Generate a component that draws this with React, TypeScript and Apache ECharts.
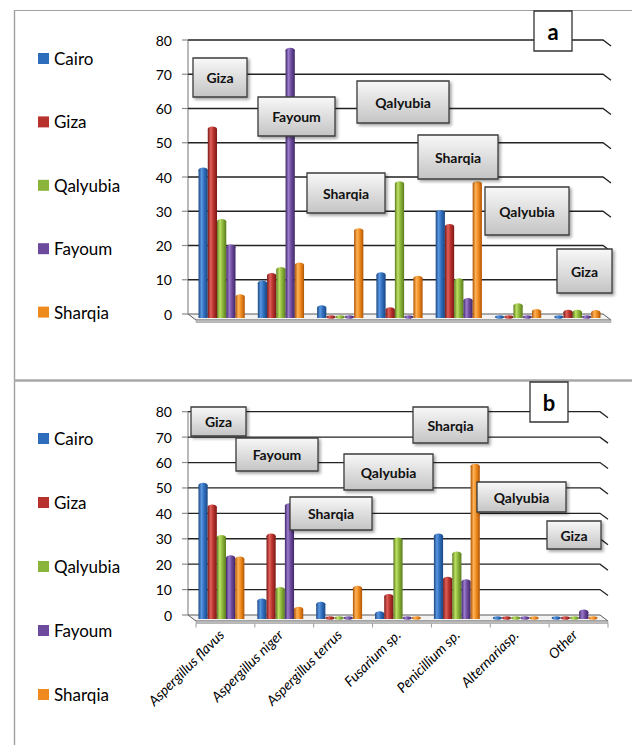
import React, { useEffect, useRef } from "react";
import * as echarts from "echarts";

// Fungal genera isolated per governorate (two sampling sets: a and b)
const categories = [
  "Aspergillus flavus",
  "Aspergillus niger",
  "Aspergillus terrus",
  "Fusarium sp.",
  "Penicillium sp.",
  "Alternariasp.",
  "Other",
];
const regions = ["Cairo", "Giza", "Qalyubia", "Fayoum", "Sharqia"];

// Set a
const cairoA = [42, 9, 1.8, 11.4, 29.6, 0, 0];
const gizaA = [54, 11.2, 0, 1.2, 25.5, 0, 0.5];
const qalyubiaA = [27, 13, 0, 38, 9.7, 2.4, 0.5];
const fayoumA = [19.5, 77, 0, 0, 3.9, 0, 0];
const sharqiaA = [5, 14.3, 24.3, 10.4, 38, 0.7, 0.4];

// Set b
const cairoB = [51, 5.5, 4.2, 0.5, 31, 0, 0];
const gizaB = [42.5, 31, 0, 7.2, 14, 0, 0];
const qalyubiaB = [30.5, 10, 0, 29.5, 24, 0, 0];
const fayoumB = [22.5, 43, 0, 0, 13, 0, 1.1];
const sharqiaB = [22, 2.2, 10.5, 0, 58.5, 0, 0];

const yTicks = [0, 10, 20, 30, 40, 50, 60, 70, 80];

// Floating region call-outs
const calloutsA = ["Giza", "Fayoum", "Qalyubia", "Sharqia", "Sharqia", "Qalyubia", "Giza"];
const calloutsB = ["Giza", "Fayoum", "Sharqia", "Qalyubia", "Sharqia", "Qalyubia", "Giza"];

const seriesA = [cairoA, gizaA, qalyubiaA, fayoumA, sharqiaA];
const seriesB = [cairoB, gizaB, qalyubiaB, fayoumB, sharqiaB];

const PALETTE = [
  { dark: "#1b4781", light: "#5a98e2", mid: "#2e6cbc" },
  { dark: "#7a1816", light: "#e0605a", mid: "#b8322d" },
  { dark: "#5b7c1e", light: "#bde063", mid: "#8ab43a" },
  { dark: "#402767", light: "#9a7bcc", mid: "#6c4a9c" },
  { dark: "#b05505", light: "#ffb257", mid: "#ee8a1e" },
];

// call-out box layout (x, y, w, h)
const boxesA = [
  [193, 58, 54, 39],
  [258, 97, 77, 39],
  [357, 81, 92, 42],
  [418, 135, 80, 44],
  [307, 173, 78, 40],
  [485, 187, 84, 48],
  [557, 249, 55, 44],
];
const boxesB = [
  [191, 407, 55, 29],
  [236, 438, 82, 33],
  [413, 407, 75, 36],
  [344, 454, 89, 36],
  [290, 497, 82, 33],
  [477, 482, 89, 30],
  [547, 521, 54, 28],
];

const FONT = "Lato, 'Open Sans', sans-serif";
const DX = 8;
const DY = 6;

function barGradient(p: { dark: string; light: string; mid: string }) {
  return new echarts.graphic.LinearGradient(0, 0, 1, 0, [
    { offset: 0, color: p.dark },
    { offset: 0.32, color: p.light },
    { offset: 0.62, color: p.mid },
    { offset: 1, color: p.dark },
  ]);
}

function makeBars(gridIdx: number, values: number[], sIdx: number) {
  const p = PALETTE[sIdx];
  return {
    type: "custom",
    name: regions[sIdx],
    xAxisIndex: gridIdx,
    yAxisIndex: gridIdx,
    z: 5,
    silent: true,
    itemStyle: { color: p.mid },
    data: values.map((v, i) => [i, v]),
    encode: { x: 0, y: 1 },
    renderItem: (params: any, api: any) => {
      const cat = api.value(0);
      const v = api.value(1);
      const band = api.size([1, 0])[0];
      const gw = band * 0.78;
      const w = gw / 5;
      const zero = api.coord([cat, 0]);
      const x = zero[0] - gw / 2 + sIdx * w;
      const base = zero[1] + 4;
      if (!v) {
        return {
          type: "ellipse",
          shape: { cx: x + w / 2, cy: zero[1] + 3, rx: w / 2, ry: 1.8 },
          style: { fill: barGradient(p) },
        };
      }
      const top = api.coord([cat, v])[1];
      return {
        type: "group",
        children: [
          {
            type: "rect",
            shape: { x: x, y: top, width: w, height: Math.max(base - top, 0.5) },
            style: { fill: barGradient(p) },
          },
          {
            type: "ellipse",
            shape: { cx: x + w / 2, cy: top, rx: w / 2, ry: 2.6 },
            style: { fill: barGradient(p) },
          },
        ],
      };
    },
  };
}

function makeDecor(gridIdx: number, withTicks: boolean) {
  return {
    type: "custom",
    xAxisIndex: gridIdx,
    yAxisIndex: gridIdx,
    z: 1,
    silent: true,
    data: yTicks.map((v) => [0, v]),
    encode: { x: 0, y: 1 },
    renderItem: (params: any, api: any) => {
      const cs = params.coordSys;
      const v = api.value(1);
      const y = api.coord([0, v])[1];
      const L = cs.x - 4;
      const R = cs.x + cs.width - 4;
      const children: any[] = [];
      if (v === 0) {
        children.push({
          type: "polygon",
          shape: { points: [[L, y], [R, y], [R + DX, y + DY], [L + DX, y + DY]] },
          style: { fill: "#f3f3f3", stroke: "#5a5a5a", lineWidth: 1 },
        });
        children.push({
          type: "polygon",
          shape: {
            points: [[L + DX, y + DY], [R + DX, y + DY], [R + DX, y + DY + 2.5], [L + DX, y + DY + 2.5]],
          },
          style: { fill: "#bdbdbd", stroke: "#9a9a9a", lineWidth: 0.6 },
        });
        children.push({
          type: "line",
          shape: { x1: L, y1: cs.y, x2: L, y2: y },
          style: { stroke: "#8c8c8c", lineWidth: 1.2 },
        });
        if (withTicks) {
          const band = cs.width / categories.length;
          for (let i = 0; i <= categories.length; i++) {
            const tx = cs.x + i * band + 4;
            children.push({
              type: "line",
              shape: { x1: tx, y1: y + DY + 2.5, x2: tx, y2: y + DY + 6.5 },
              style: { stroke: "#9a9a9a", lineWidth: 1 },
            });
          }
        }
      } else {
        children.push({
          type: "polyline",
          shape: { points: [[L, y], [R, y], [R + DX, y + DY]] },
          style: { stroke: "#222", lineWidth: 1.3, fill: null },
        });
      }
      children.push({
        type: "line",
        shape: { x1: L - 6, y1: y, x2: L, y2: y },
        style: { stroke: "#8c8c8c", lineWidth: 1.2 },
      });
      return { type: "group", children };
    },
  };
}

function calloutGraphics(texts: string[], boxes: number[][]) {
  return texts.map((t, i) => {
    const [x, y, w, h] = boxes[i];
    return {
      type: "group",
      x,
      y,
      z: 20,
      children: [
        {
          type: "rect",
          z: 20,
          shape: { x: 0, y: 0, width: w, height: h },
          style: {
            fill: new echarts.graphic.LinearGradient(0, 0, 0, 1, [
              { offset: 0, color: "#f8f8f8" },
              { offset: 1, color: "#c4c4c4" },
            ]),
            stroke: "#3c3c3c",
            lineWidth: 1.3,
            shadowBlur: 3,
            shadowOffsetX: 2,
            shadowOffsetY: 2,
            shadowColor: "rgba(0,0,0,0.35)",
          },
        },
        {
          type: "text",
          z: 21,
          style: {
            x: w / 2,
            y: h / 2,
            text: t,
            fill: "#111",
            font: `bold 14px ${FONT}`,
            textAlign: "center",
            textVerticalAlign: "middle",
          },
        },
      ],
    };
  });
}

function panelTag(letter: string, x: number, y: number) {
  return {
    type: "group",
    x,
    y,
    z: 20,
    children: [
      {
        type: "rect",
        z: 20,
        shape: { x: 0, y: 0, width: 38, height: 40 },
        style: { fill: "#fff", stroke: "#333", lineWidth: 1.3 },
      },
      {
        type: "text",
        z: 21,
        style: {
          x: 19,
          y: 20,
          text: letter,
          fill: "#000",
          font: `bold 22px ${FONT}`,
          textAlign: "center",
          textVerticalAlign: "middle",
        },
      },
    ],
  };
}

export default function App() {
  const ref = useRef<HTMLDivElement>(null);

  useEffect(() => {
    if (!ref.current) return;
    const chart = echarts.init(ref.current, null, { renderer: "svg" });

    const yAxisBase = {
      type: "value",
      min: 0,
      max: 80,
      interval: 10,
      axisLine: { show: false },
      axisTick: { show: false },
      splitLine: { show: false },
      axisLabel: { margin: 20, fontSize: 14, color: "#000", fontFamily: FONT },
    };
    const legendBase = {
      orient: "vertical",
      left: 33,
      icon: "rect",
      itemWidth: 11,
      itemHeight: 11,
      selectedMode: false,
      textStyle: { fontSize: 17, lineHeight: 16, color: "#000", fontFamily: FONT },
      data: regions,
    };

    chart.setOption({
      animation: false,
      backgroundColor: "#fff",
      grid: [
        { left: 192, top: 40, width: 415, height: 274 },
        { left: 192, top: 411.7, width: 412, height: 203.3 },
      ],
      xAxis: [
        {
          type: "category",
          gridIndex: 0,
          data: categories,
          axisLine: { show: false },
          axisTick: { show: false },
          axisLabel: { show: false },
        },
        {
          type: "category",
          gridIndex: 1,
          data: categories,
          axisLine: { show: false },
          axisTick: { show: false },
          axisLabel: {
            rotate: 45,
            margin: 17,
            fontSize: 14,
            fontStyle: "italic",
            color: "#000",
            fontFamily: FONT,
            interval: 0,
          },
        },
      ],
      yAxis: [
        { ...yAxisBase, gridIndex: 0 },
        { ...yAxisBase, gridIndex: 1 },
      ],
      legend: [
        { ...legendBase, top: 45, itemGap: 46.4 },
        { ...legendBase, top: 425, itemGap: 47 },
      ],
      graphic: [
        {
          type: "line",
          shape: { x1: 14, y1: 10.5, x2: 632, y2: 10.5 },
          style: { stroke: "#a0a0a0", lineWidth: 1.2 },
        },
        {
          type: "line",
          shape: { x1: 14.5, y1: 10, x2: 14.5, y2: 745 },
          style: { stroke: "#a0a0a0", lineWidth: 1.4 },
        },
        {
          type: "line",
          shape: { x1: 14, y1: 380.5, x2: 632, y2: 380.5 },
          style: { stroke: "#a8a8a8", lineWidth: 2.6 },
        },
        panelTag("a", 534, 11),
        panelTag("b", 530, 382),
        ...calloutGraphics(calloutsA, boxesA),
        ...calloutGraphics(calloutsB, boxesB),
      ],
      series: [
        makeDecor(0, false),
        makeDecor(1, true),
        ...seriesA.map((vals, i) => makeBars(0, vals, i)),
        ...seriesB.map((vals, i) => makeBars(1, vals, i)),
      ],
    });

    return () => chart.dispose();
  }, []);

  return (
    <div
      ref={ref}
      style={{ position: "fixed", left: 0, top: 0, width: 632, height: 745, background: "#fff" }}
    />
  );
}
